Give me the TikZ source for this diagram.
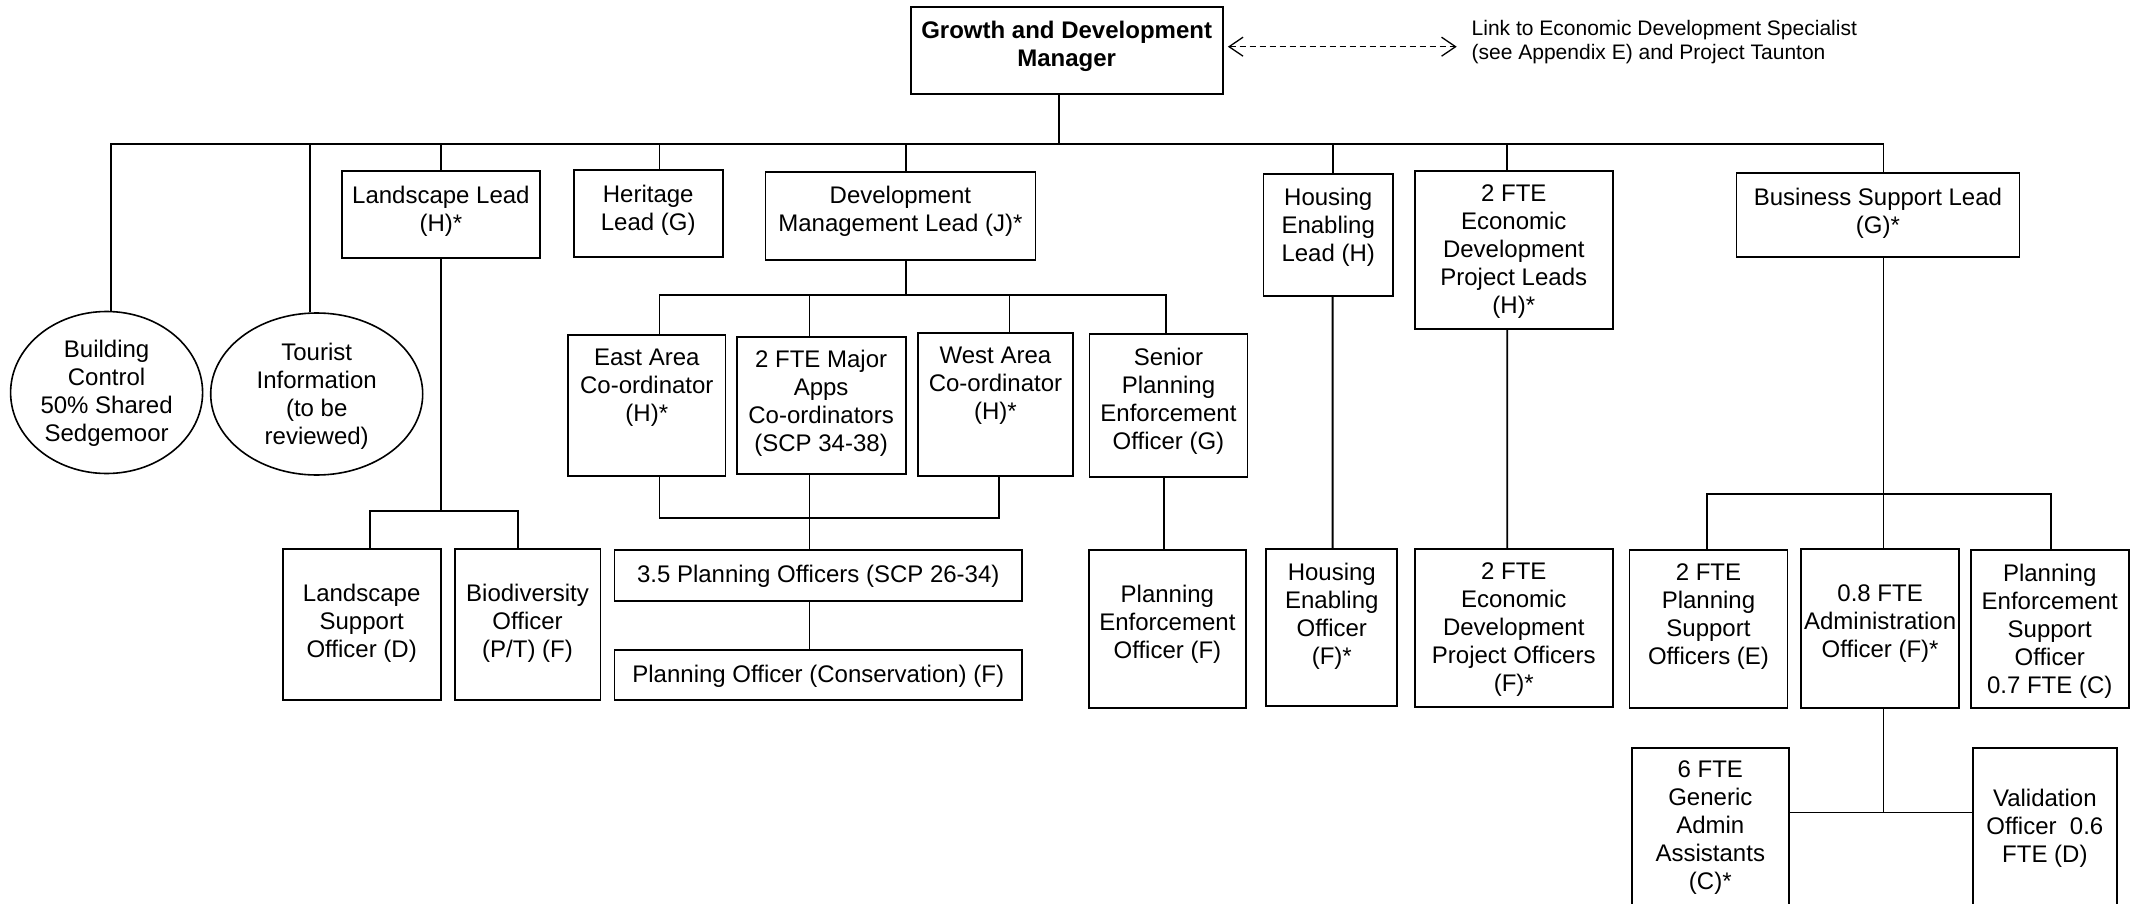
\documentclass[tikz,border=0pt]{standalone}
\usepackage{fontspec}
\setmainfont{Liberation Sans}
\usetikzlibrary{shapes.geometric,arrows.meta,calc}
\tikzset{
  box/.style={draw, line width=1.8pt, rectangle, inner sep=0pt},
  oval/.style={draw, line width=1.6pt, ellipse, inner sep=0pt},
  txt/.style={align=center, inner sep=0pt, font=\fontsize{24}{28}\selectfont},
  linktxt/.style={align=left, inner sep=0pt, font=\fontsize{21}{24.3}\selectfont},
  conn/.style={line width=1.8pt},
  dasharrow/.style={line width=1.3pt, dash pattern=on 6pt off 4pt, {Straight Barb[length=14pt,width=19pt]}-{Straight Barb[length=14pt,width=19pt]}},
}
\newcommand{\obox}[7]{%
  \node[box, minimum width={#4-#2}, minimum height={#5-#3}] (#1) at ({(#2+#4)/2},{(#3+#5)/2}) {};
  \node[txt] (#1-t) at ([yshift=#6]#1.center) {#7};
}
\begin{document}
\begin{tikzpicture}[x=1pt,y=-1pt]
\useasboundingbox (0,0) rectangle (2141,904);
\clip (0,0) rectangle (2141,904);
% boxes
\obox{mgr}{910.6}{6.7}{1222.7}{93.7}{4}{\bfseries Growth and Development\\\bfseries Manager}
\obox{landlead}{341.6}{171}{540.2}{257.7}{3.5}{Landscape Lead\\(H)*}
\obox{heritage}{573.8}{170}{722.6}{256.7}{3}{Heritage\\Lead (G)}
\obox{dmlead}{765.4}{172}{1035.4}{259.7}{4.5}{Development\\Management Lead (J)*}
\obox{east}{568.2}{335.3}{725.4}{476}{18}{East Area\\Co-ordinator\\(H)*}
\obox{major}{736.6}{336.7}{905.6}{474.3}{2}{2 FTE Major\\Apps\\Co-ordinators\\(SCP 34-38)}
\obox{west}{917.6}{333.3}{1073.3}{476}{19}{West Area\\Co-ordinator\\(H)*}
\obox{senior}{1089.5}{334.3}{1247.4}{477.3}{5}{Senior\\Planning\\Enforcement\\Officer (G)}
\obox{helead}{1263.4}{173.7}{1393}{295.7}{7}{Housing\\Enabling\\Lead (H)}
\obox{econlead}{1414.8}{171}{1612.7}{329}{-1.5}{2 FTE\\Economic\\Development\\Project Leads\\(H)*}
\obox{bslead}{1736.4}{173.3}{2019.5}{257}{2}{Business Support Lead\\(G)*}
\obox{lso}{282.7}{549}{440.6}{700}{1}{Landscape\\Support\\Officer (D)}
\obox{bio}{454.6}{549}{600.5}{700}{1}{Biodiversity\\Officer\\(P/T) (F)}
\obox{po}{614.5}{550}{1022}{600.7}{-1}{3.5 Planning Officers (SCP 26-34)}
\obox{pocons}{614.5}{650}{1022}{700}{-1.7}{Planning Officer (Conservation) (F)}
\obox{peo}{1088.8}{550}{1246}{707.7}{5}{Planning\\Enforcement\\Officer (F)}
\obox{heo}{1266.3}{549}{1397.3}{706}{11.5}{Housing\\Enabling\\Officer\\(F)*}
\obox{econoff}{1414.8}{549}{1612.7}{707}{-2}{2 FTE\\Economic\\Development\\Project Officers\\(F)*}
\obox{pso}{1629.5}{550}{1787.4}{707.7}{12}{2 FTE\\Planning\\Support\\Officers (E)}
\obox{admin}{1801.2}{549}{1959}{707.7}{5}{0.8 FTE\\Administration\\Officer (F)*}
\obox{pes}{1970.8}{550}{2128.6}{707.7}{-2}{Planning\\Enforcement\\Support\\Officer\\0.7 FTE (C)}
\obox{generic}{1631.6}{747.7}{1789}{920}{6}{6 FTE\\Generic\\Admin\\Assistants\\(C)*}
\obox{valid}{1972.7}{747.7}{2117}{920}{6}{Validation\\Officer~~0.6\\FTE (D)}
% ellipses
\node[oval, minimum width=192pt, minimum height=162pt] (bc) at (106.6,392.5) {};
\node[txt] (bc-t) at ([yshift=-1]bc.center) {Building\\Control\\50\% Shared\\Sedgemoor};
\node[oval, minimum width=212pt, minimum height=162pt] (ti) at (316.7,394) {};
\node[txt] (ti-t) at ([yshift=-2.5]ti.center) {Tourist\\Information\\(to be\\reviewed)};
% link
\node[linktxt, anchor=west] (link) at (1471.5,42.2) {Link to Economic Development Specialist\\(see Appendix E) and Project Taunton};
\coordinate (linkend) at (1456.7,46.7);
\draw[dasharrow] ([xshift=4.3pt,yshift=3.5pt]mgr.east) -- (linkend);
% main bus
\coordinate (busL) at (110.8,144);
\coordinate (busR) at (1883.4,144);
\draw[conn] (busL |- bc.north) -- (busL) -- (busR) -- (busR |- bslead.north);
\draw[conn] ([xshift=-7.7pt]mgr.south) |- (busL);
\draw[conn] ([xshift=-6.7pt]ti.north) |- (busL);
\draw[conn] (landlead.north) |- (busL);
\draw[conn] ([xshift=11.2pt]heritage.north) |- (busL);
\draw[conn] ([xshift=5.2pt]dmlead.north) |- (busL);
\draw[conn] ([xshift=4.4pt]helead.north) |- (busL);
\draw[conn] ([xshift=-6.5pt]econlead.north) |- (busL);
% development management
\coordinate (dmL) at (659.4,295);
\coordinate (dmR) at (1166,295);
\draw[conn] ([xshift=5.2pt]dmlead.south) |- (dmL);
\draw[conn] (dmL) -- (dmR);
\draw[conn] ([xshift=12.6pt]east.north) |- (dmL);
\draw[conn] ([xshift=-11.6pt]major.north) |- (dmL);
\draw[conn] ([xshift=14pt]west.north) |- (dmL);
\draw[conn] ([xshift=-2.5pt]senior.north) |- (dmL);
\coordinate (cjL) at (659.4,517.7);
\coordinate (cjR) at (999,517.7);
\draw[conn] ([xshift=12.6pt]east.south) -- (cjL) -- (cjR) -- ([xshift=3.55pt]west.south);
\draw[conn] ([xshift=-11.6pt]major.south) -- ([xshift=-8.75pt]po.north);
\draw[conn] ([xshift=-8.75pt]po.south) -- ([xshift=-8.75pt]pocons.north);
\draw[conn] ([xshift=-4.75pt]senior.south) -- ([xshift=-3.7pt]peo.north);
% landscape
\coordinate (lsb) at (440.9,511);
\draw[conn] (landlead.south) -- (lsb);
\draw[conn] ([xshift=8pt]lso.north) |- (lsb);
\draw[conn] ([xshift=-9.85pt]bio.north) |- (lsb);
% housing / econ
\draw[conn] ([xshift=4.4pt]helead.south) -- ([xshift=0.8pt]heo.north);
\draw[conn] ([xshift=-6.5pt]econlead.south) -- ([xshift=-6.55pt]econoff.north);
% business support
\coordinate (bsb) at (1883.4,494.3);
\draw[conn] ([xshift=5.45pt]bslead.south) -- (bsb);
\draw[conn] ([xshift=-1.15pt]pso.north) |- (bsb);
\draw[conn] ([xshift=3.3pt]admin.north) -- (bsb);
\draw[conn] ([xshift=1.1pt]pes.north) |- (bsb);
\coordinate (adb) at (1883.4,812.5);
\draw[conn] ([xshift=3.3pt]admin.south) -- (adb);
\draw[conn] (generic.east |- adb) -- (valid.west |- adb);
\end{tikzpicture}
\end{document}
